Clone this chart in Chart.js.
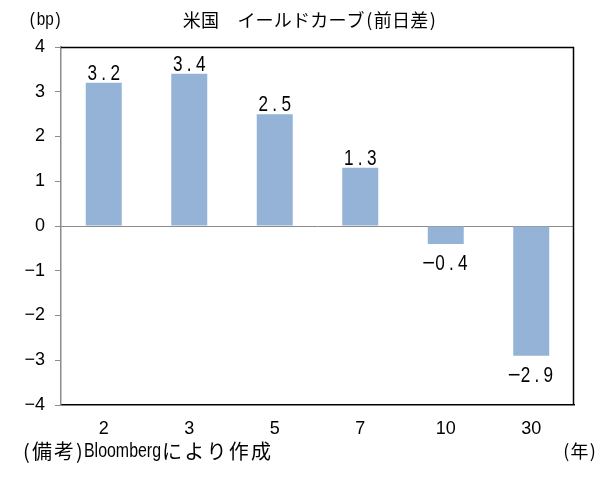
<!DOCTYPE html>
<html>
<head>
<meta charset="utf-8">
<script src="https://cdn.jsdelivr.net/npm/chart.js@4.4.1/dist/chart.umd.min.js"></script>
<style>
  html, body { margin: 0; padding: 0; background: #fff; }
  #wrap { width: 615px; height: 481px; }
</style>
</head>
<body>
<div id="wrap"><canvas id="c" width="615" height="481"></canvas></div>
<script>
const categories = ['2', '3', '5', '7', '10', '30'];
const values = [3.2, 3.4, 2.5, 1.3, -0.4, -2.9];
const valueLabels = ['3.2', '3.4', '2.5', '1.3', '-0.4', '-2.9'];
const yTicks = [-4, -3, -2, -1, 0, 1, 2, 3, 4];
const titleText = '米国　イールドカーブ(前日差)';
const unitText = '(bp)';
const xUnitText = '(年)';
const notePrefix = '(備考)';
const noteSource = 'Bloomberg';
const noteSuffix = 'により作成';

const SANS = '"Liberation Sans", Arial, sans-serif';
const CJK = '"Noto Sans CJK JP", "Noto Sans", sans-serif';

// draw text glyph by glyph in fixed cells (mimics a half/full-width gothic font)
function drawCells(ctx, text, x, y, halfCell, fullCell, asciiFont, cjkFont, sx, align) {
  const chars = Array.from(text);
  const isHalf = c => c.charCodeAt(0) < 0x2000;
  const widths = chars.map(c => (isHalf(c) ? halfCell : fullCell));
  const total = widths.reduce((a, b) => a + b, 0);
  let cx = align === 'center' ? x - total / 2 : align === 'right' ? x - total : x;
  ctx.textAlign = 'center';
  chars.forEach((c, i) => {
    ctx.save();
    ctx.font = isHalf(c) ? asciiFont : cjkFont;
    ctx.translate(cx + widths[i] / 2, y);
    if (isHalf(c)) ctx.scale(sx, 1);
    ctx.fillText(c, 0, 0);
    ctx.restore();
    cx += widths[i];
  });
  return cx;
}
// draw a run of text squeezed horizontally to a target width
function drawFit(ctx, text, x, y, font, width) {
  ctx.save();
  ctx.font = font;
  ctx.textAlign = 'left';
  const w = ctx.measureText(text).width;
  ctx.translate(x, y);
  ctx.scale(width / w, 1);
  ctx.fillText(text, 0, 0);
  ctx.restore();
  return x + width;
}

const extras = {
  id: 'extras',
  beforeDatasetsDraw(chart) {
    const { ctx, chartArea: a, scales: { y } } = chart;
    ctx.save();
    const y0 = Math.round(y.getPixelForValue(0)) + 0.5;
    ctx.strokeStyle = '#8c8c8c';
    ctx.lineWidth = 1;
    ctx.beginPath();
    ctx.moveTo(a.left, y0);
    ctx.lineTo(a.right, y0);
    ctx.stroke();
    ctx.restore();
  },
  afterDatasetsDraw(chart) {
    const { ctx, chartArea: a } = chart;
    ctx.save();
    ctx.strokeStyle = '#000';
    ctx.lineWidth = 1.5;
    ctx.beginPath();
    ctx.moveTo(a.left, a.top + 0.5);
    ctx.lineTo(a.right - 0.5, a.top + 0.5);
    ctx.lineTo(a.right - 0.5, a.bottom);
    ctx.stroke();
    // value labels
    const meta = chart.getDatasetMeta(0);
    ctx.fillStyle = '#000';
    ctx.textBaseline = 'alphabetic';
    const lblFont = '22px ' + SANS;
    meta.data.forEach((el, i) => {
      const v = values[i];
      const t = valueLabels[i].replace('-', '−');
      const yy = v >= 0 ? el.y - 3 : el.y + 26;
      drawCells(ctx, t, el.x, yy, 11.4, 11.4, lblFont, lblFont, 0.78, 'center');
    });
    // texts
    ctx.textBaseline = 'middle';
    drawCells(ctx, titleText, 310, 20, 9, 18.2, '18px ' + CJK, '18px ' + CJK, 1, 'center');
    drawCells(ctx, unitText, 28, 20, 8.6, 17, '18px ' + SANS, '17px ' + CJK, 0.85, 'left');
    let nx = drawCells(ctx, notePrefix, 22, 451, 9, 22, '20px ' + CJK, '20px ' + CJK, 1, 'left');
    nx = drawFit(ctx, noteSource, nx, 451, '21px ' + SANS, 77);
    drawCells(ctx, noteSuffix, nx, 451, 9, 22.2, '20px ' + CJK, '20px ' + CJK, 1, 'left');
    drawCells(ctx, xUnitText, 562, 451, 8.8, 17.5, '18px ' + CJK, '18px ' + CJK, 1, 'left');
    ctx.restore();
  }
};

new Chart(document.getElementById('c'), {
  type: 'bar',
  data: {
    labels: categories,
    datasets: [{
      data: values,
      backgroundColor: '#95B3D7',
      borderWidth: 0,
      barPercentage: 0.421,
      categoryPercentage: 1.0
    }]
  },
  options: {
    responsive: false,
    animation: false,
    events: [],
    layout: { padding: { left: 0, right: 41, top: 47, bottom: 36 } },
    plugins: { legend: { display: false }, tooltip: { enabled: false }, title: { display: false } },
    scales: {
      x: {
        grid: { display: false, drawTicks: false },
        border: { display: true, color: '#000', width: 1.5 },
        ticks: { color: '#000', font: { family: SANS, size: 18 }, padding: 13, maxRotation: 0 },
        afterFit(s) { s.height = 40; }
      },
      y: {
        min: -4, max: 4,
        afterBuildTicks(s) { s.ticks = yTicks.map(v => ({ value: v })); },
        grid: { drawOnChartArea: false, drawTicks: true, tickLength: 6, color: '#8c8c8c' },
        border: { display: true, color: '#8c8c8c', width: 1.5 },
        ticks: {
          color: '#000', font: { family: SANS, size: 18 }, padding: 10,
          callback: v => (v < 0 ? '−' + Math.abs(v) : String(v))
        },
        afterFit(s) { s.width = 61; }
      }
    }
  },
  plugins: [extras]
});
</script>
</body>
</html>
